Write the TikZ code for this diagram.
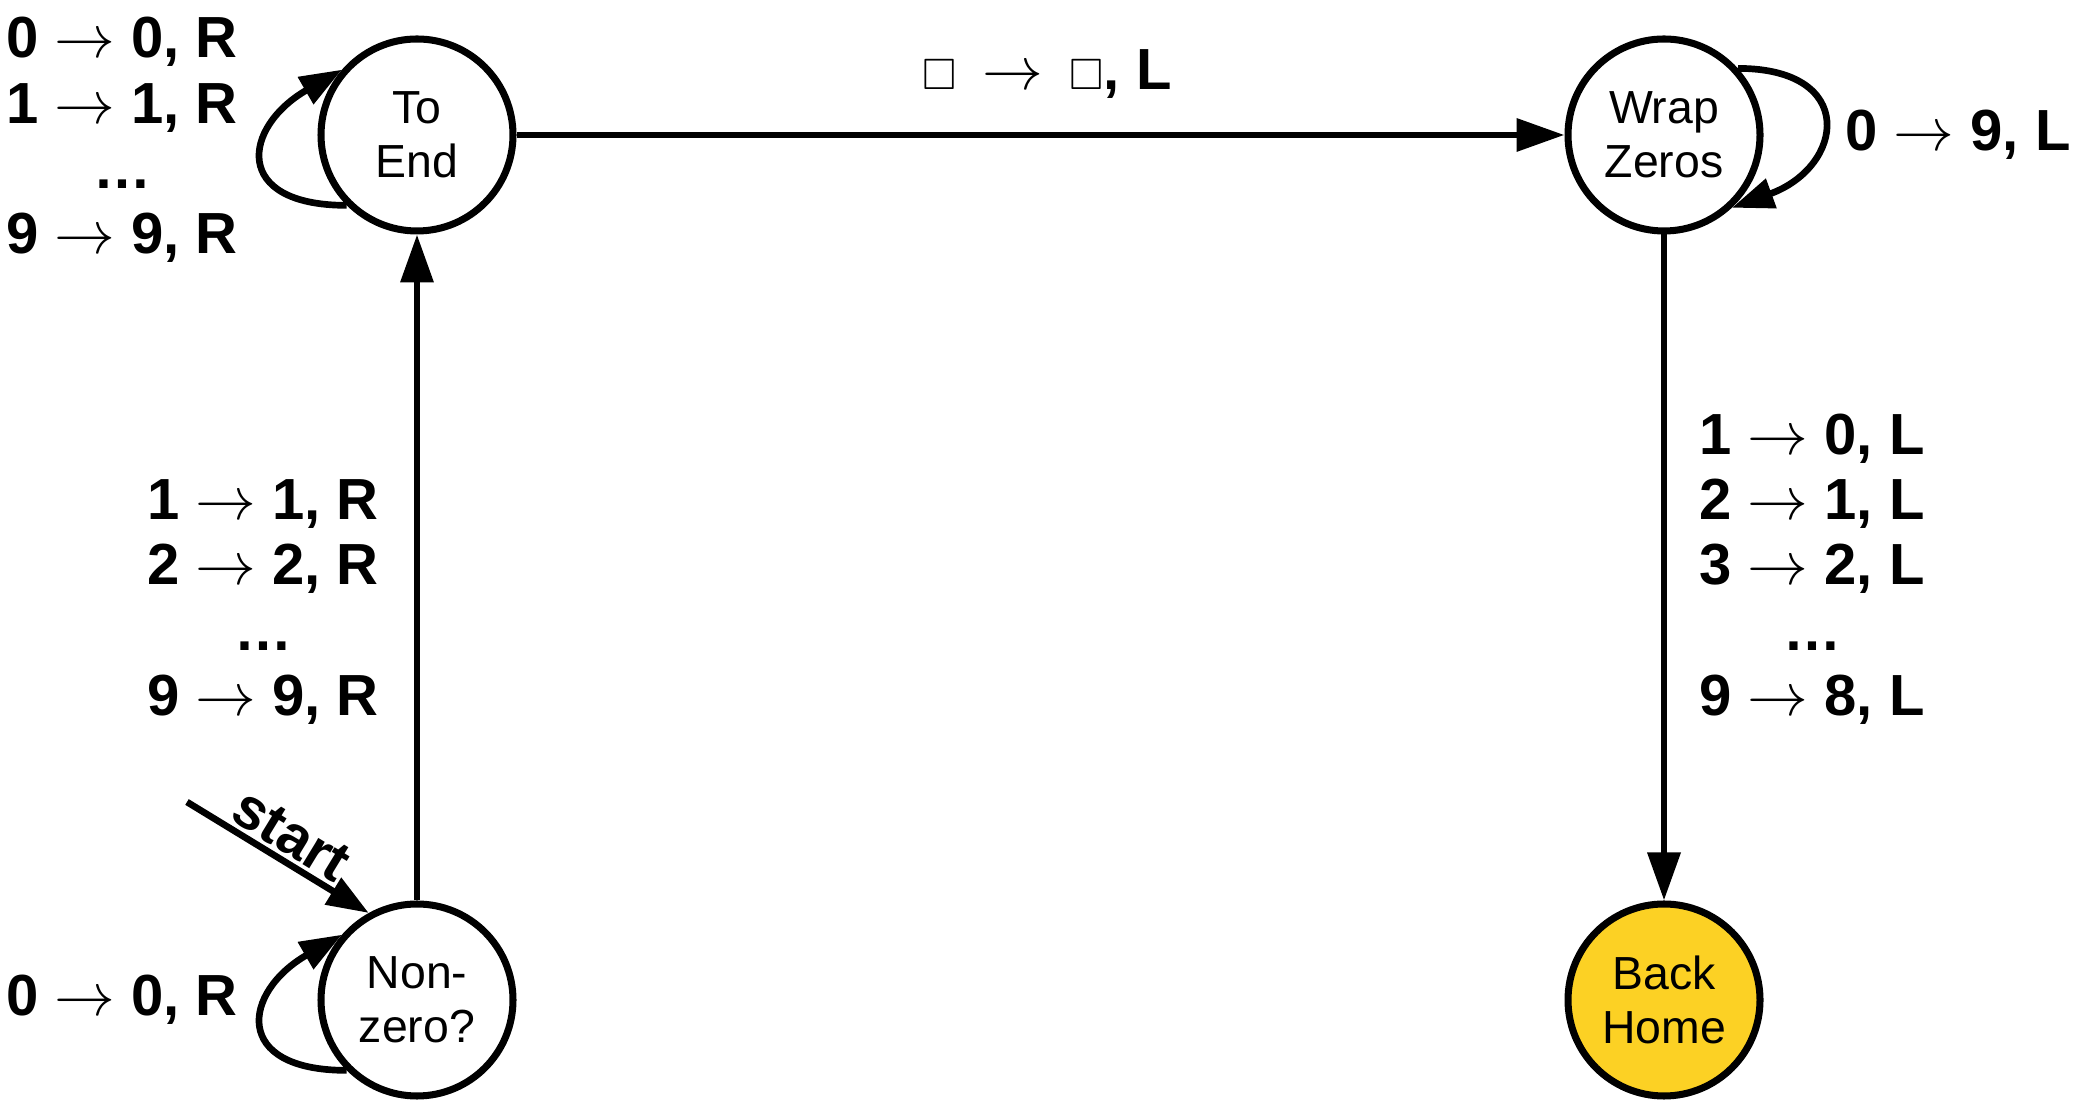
\documentclass[tikz,border=0pt]{standalone}
\usepackage{fontspec}
\setmainfont{Liberation Sans}
\usepackage{amssymb}
\usepackage{xcolor}
\usepackage{tikz}
\usetikzlibrary{arrows.meta,positioning}
\definecolor{homefill}{HTML}{FCD124}
\tikzset{
  st/.style   ={circle, draw=black, line width=2pt, fill=white, minimum size=19.2mm,
                inner sep=0pt, align=center, font=\fontsize{13.2}{15.5}\selectfont},
  fin/.style  ={st, fill=homefill},
  fl/.style   ={draw=black, line width=1.9pt, -{Triangle[length=4.8mm,width=3.2mm]}},
  lp/.style   ={fl, -{Triangle[length=4.2mm,width=3mm]}},
  lbl/.style  ={font=\fontsize{16.5}{18.6}\selectfont\bfseries, align=center, inner sep=0pt},
}
\newcommand{\blk}{{\fontsize{12.5}{12.5}\selectfont$\square$}}
\newcommand{\tto}{$\rightarrow$}

\begin{document}
\begin{tikzpicture}[x=1cm,y=1cm]
  \useasboundingbox (0,0) rectangle (20.76,11.06);
  \node[st] (toend) at (4.17,9.71) {To\\End};
  \node[st] (wrap) at (16.64,9.71) {Wrap\\Zeros};
  \node[st] (nonzero) at (4.17,1.06) {Non-\\zero?};
  \node[fin] (home) at (16.64,1.06) {Back\\Home};
  \coordinate (init) at (1.87,3.04);
  \draw[lp] (init) -- node[lbl,sloped,above=1pt] (startlbl) {start} (nonzero.119);
  \draw[fl] (nonzero) -- (toend);
  \draw[fl] (toend) -- (wrap);
  \draw[fl] (wrap) -- (home);
  \draw[lp] (toend.225) .. controls +(180:1.15) and +(210:1.15) .. (toend.139);
  \draw[lp] (nonzero.225) .. controls +(180:1.15) and +(210:1.15) .. (nonzero.139);
  \draw[lp] (wrap.42) .. controls +(0:1.2) and +(20:1.2) .. (wrap.-47);
  \node[lbl] (endloop) at (1.22,9.66) {0 \tto{} 0, R\\1 \tto{} 1, R\\\dots\\9 \tto{} 9, R};
  \node[lbl] (uplbl) at (2.63,5.04) {1 \tto{} 1, R\\2 \tto{} 2, R\\\dots\\9 \tto{} 9, R};
  \node[lbl,anchor=base] (toplbl) at (10.47,10.16) {\blk\hspace{0.45em}\tto\hspace{0.45em}\blk, L};
  \node[lbl] (wraploop) at (19.58,9.71) {0 \tto{} 9, L};
  \node[lbl] (downlbl) at (18.12,5.37) {1 \tto{} 0, L\\2 \tto{} 1, L\\3 \tto{} 2, L\\\dots\\9 \tto{} 8, L};
  \node[lbl] (nzloop) at (1.22,1.06) {0 \tto{} 0, R};
\end{tikzpicture}
\end{document}
